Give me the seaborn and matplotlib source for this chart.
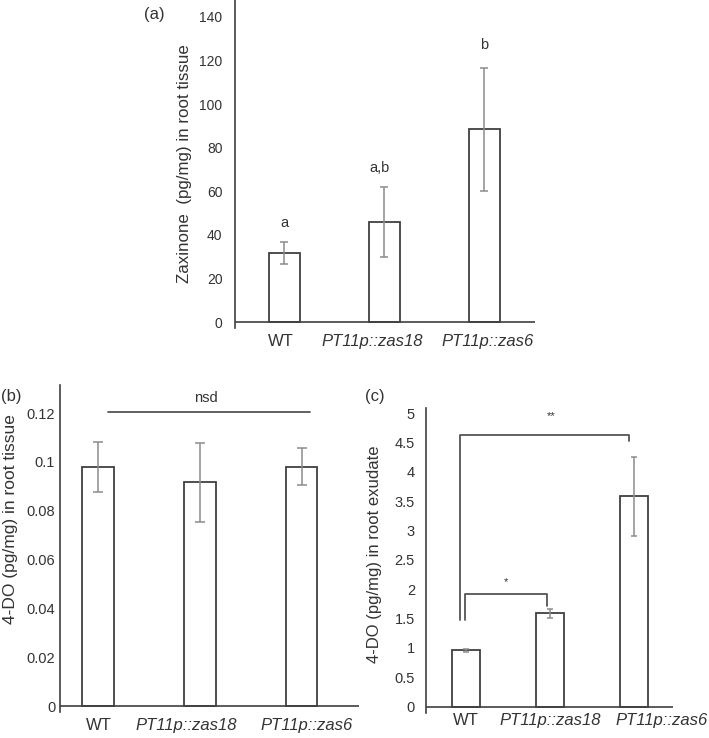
import matplotlib
matplotlib.use("Agg")
import matplotlib.pyplot as plt
import matplotlib.transforms as mtransforms
import seaborn as sns
import numpy as np

# ---------------- data ----------------
genotypes = ["WT", "PT11p::zas18", "PT11p::zas6"]

zaxinone_mean = [31.6, 45.8, 88.4]
zaxinone_err = [5.0, 16.0, 28.2]
zaxinone_letters = ["a", "a,b", "b"]

do_tissue_mean = [0.0978, 0.0917, 0.0981]
do_tissue_err = [0.0102, 0.0162, 0.0077]

do_exudate_mean = [0.96, 1.59, 3.58]
do_exudate_err = [0.03, 0.075, 0.665]

sns.set_theme(style="white")
plt.rcParams["font.family"] = ["Liberation Sans", "DejaVu Sans"]

W, H = 709, 738
fig = plt.figure(figsize=(W / 100, H / 100), dpi=100)

TXT = "#333333"
EDGE = "#404040"
ERR = "#8c8c8c"


def make_axes(left, right, zero, top, ytop, below=6):
    ppu = (zero - top) / ytop
    ybot = -below / ppu
    ax = fig.add_axes([left / W, 1 - (zero + below) / H,
                       (right - left) / W, (zero + below - top) / H])
    ax.set_ylim(ybot, ytop)
    return ax


def draw_panel(ax, means, errs, width, capsize, xlim, ticks, ticksize,
               ypad, xpad, xshift, ylabel, labelsize, label_xy, fmt=None):
    sns.barplot(x=genotypes, y=means, ax=ax, color="white",
                edgecolor=EDGE, linewidth=1.3, width=width, errorbar=None,
                saturation=1)
    ax.errorbar(np.arange(len(means)), means, yerr=errs, fmt="none",
                ecolor=ERR, elinewidth=1.1, capsize=capsize, capthick=1.1)
    ax.set_xlim(*xlim)
    ax.set_yticks(ticks)
    if fmt:
        ax.set_yticklabels([fmt(t) for t in ticks])
    for s in ["top", "right", "bottom"]:
        ax.spines[s].set_visible(False)
    ax.spines["left"].set_color(EDGE)
    ax.spines["left"].set_linewidth(1.2)
    ax.axhline(0, color=EDGE, lw=1.2, zorder=5)
    ax.tick_params(axis="both", length=0, colors=TXT)
    ax.tick_params(axis="y", pad=ypad, labelsize=ticksize)
    ax.tick_params(axis="x", pad=xpad, labelsize=12)
    ax.set_xticks(range(len(genotypes)))
    ax.set_xticklabels(genotypes)
    for i, t in enumerate(ax.get_xticklabels()):
        if i > 0:
            t.set_fontstyle("italic")
        off = mtransforms.ScaledTranslation(xshift[i] / 100, 0,
                                            fig.dpi_scale_trans)
        t.set_transform(t.get_transform() + off)
    ax.set_xlabel("")
    ax.set_ylabel(ylabel, fontsize=labelsize, color=TXT)
    ax.yaxis.set_label_coords(*label_xy)
    ax.set_facecolor("white")


# ---------------- panel (a) ----------------
ax_a = make_axes(235, 535, 322, 0, 147.8)
draw_panel(ax_a, zaxinone_mean, zaxinone_err, 0.31, 3.2, (-0.49, 2.51),
           [0, 20, 40, 60, 80, 100, 120, 140], 10, 9, 4.5, [-3, -12, 4],
           "Zaxinone  (pg/mg) in root tissue", 12.2, (-0.145, 0.5))
letter_y = [45.4, 70.5, 127.0]
letter_dx = [0, -0.05, 0]
for i, lab in enumerate(zaxinone_letters):
    ax_a.text(i + letter_dx[i], letter_y[i], lab, ha="center", va="center",
              fontsize=10.5, color=TXT)

# ---------------- panel (b) ----------------
ax_b = make_axes(60, 359, 706, 385, 0.1315)
draw_panel(ax_b, do_tissue_mean, do_tissue_err, 0.31, 3.6, (-0.373, 2.565),
           [0, 0.02, 0.04, 0.06, 0.08, 0.1, 0.12], 10.5, 3.5, 4.5, [1, -13, 5],
           "4-DO (pg/mg) in root tissue", 12.5, (-0.14, 0.59),
           fmt=lambda t: "0" if t == 0 else f"{t:g}")
ax_b.plot([0.1, 2.08], [0.1206, 0.1206], color="#555555", lw=1.3)
ax_b.text(1.06, 0.1262, "nsd", ha="center", va="center", fontsize=10.5,
          color=TXT)

# ---------------- panel (c) ----------------
ax_c = make_axes(426, 673, 706.7, 408, 5.087)
draw_panel(ax_c, do_exudate_mean, do_exudate_err, 0.33, 2.4, (-0.476, 2.464),
           [0, 0.5, 1, 1.5, 2, 2.5, 3, 3.5, 4, 4.5, 5], 10.5, 8, 0, [0, 0, 28],
           "4-DO (pg/mg) in root exudate", 12, (-0.178, 0.52),
           fmt=lambda t: f"{t:g}")
ax_c.plot([-0.07, -0.07, 1.94, 1.94], [1.47, 4.62, 4.62, 4.52],
          color="#555555", lw=1.3)
ax_c.plot([-0.01, -0.01, 0.97, 0.97], [1.47, 1.92, 1.92, 1.71],
          color="#555555", lw=1.3)
ax_c.text(1.01, 4.95, "**", ha="center", va="center", fontsize=8, color=TXT)
ax_c.text(0.47, 2.12, "*", ha="center", va="center", fontsize=8, color=TXT)

# panel letters
fig.text(154 / W, 1 - 14.5 / H, "(a)", ha="center", va="center",
         fontsize=12, color=TXT)
fig.text(11 / W, 1 - 397 / H, "(b)", ha="center", va="center",
         fontsize=12, color=TXT)
fig.text(375 / W, 1 - 397 / H, "(c)", ha="center", va="center",
         fontsize=12, color=TXT)

fig.savefig("out.png", dpi=100, facecolor="white")
